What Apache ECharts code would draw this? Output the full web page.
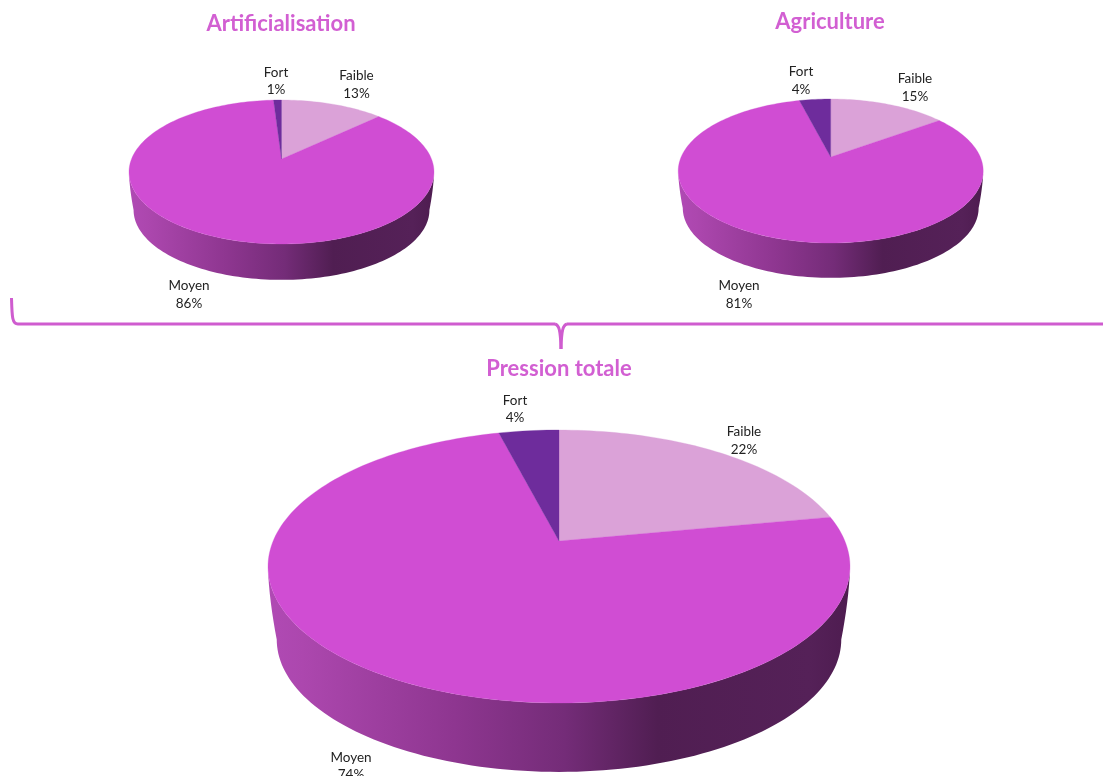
<!DOCTYPE html>
<html>
<head>
<meta charset="utf-8">
<style>html,body{margin:0;padding:0;background:#fff}#c{width:1103px;height:776px}</style>
<script src="https://cdn.jsdelivr.net/npm/echarts@6/dist/echarts.min.js"></script>
</head>
<body>
<div id="c"></div>
<script>
// Data
var categories = ['Faible', 'Moyen', 'Fort'];
var artificialisationValues = [13, 86, 1];
var agricultureValues = [15, 81, 4];
var pressionValues = [22, 74, 4];
var pieTitles = ['Artificialisation', 'Agriculture', 'Pression totale'];

// Layout
var TOP = '#D04DD3', TITLE = '#D25FD2';
var sliceColors = {Faible: '#DBA2D8', Moyen: TOP, Fort: '#6E2C9C'};
var pies = [
  {values: artificialisationValues, cx: 281.5, apexY: 159, rx: 152.5, up: 59, down: 85, depth: 38,
   labels: {Faible: [356.5, 84.5], Moyen: [189, 294.5], Fort: [276, 81]}, titlePos: [281, 24]},
  {values: agricultureValues, cx: 830.7, apexY: 157, rx: 152.5, up: 58, down: 86, depth: 37,
   labels: {Faible: [915, 87.5], Moyen: [739, 294.5], Fort: [801, 80.5]}, titlePos: [830, 22]},
  {values: pressionValues, cx: 559, apexY: 541, rx: 291, up: 111, down: 162, depth: 73,
   labels: {Faible: [744, 440.5], Moyen: [351, 766], Fort: [515, 409]}, titlePos: [559, 369]}
];
var WALL_SCALE = 0.97;

function project(p, deg) {
  var k = (p.down - p.up) / (p.down + p.up);
  var a = deg * Math.PI / 180;
  var x = Math.sin(a), y = Math.cos(a), w = 1 + k * y;
  var sx = p.rx * Math.sqrt(1 - k * k), sy = p.up * (1 + k);
  return [p.cx + sx * x / w, p.apexY - sy * y / w];
}
function wallPoint(p, deg) {
  var pt = project(p, deg);
  var centreY = p.apexY + (p.down - p.up) / 2;
  return [p.cx + (pt[0] - p.cx) * WALL_SCALE, centreY + (pt[1] - centreY) * WALL_SCALE + p.depth];
}
function arc(fn, p, from, to) {
  var pts = [], n = Math.max(2, Math.ceil(Math.abs(to - from) / 1.5));
  for (var i = 0; i <= n; i++) pts.push(fn(p, from + (to - from) * i / n));
  return pts;
}
// Side edge of the wall, bowing outwards slightly like the drum's silhouette.
function sideEdge(a, b) {
  var pts = [];
  for (var i = 1; i < 8; i++) {
    var t = i / 8;
    pts.push([a[0] + (b[0] - a[0]) * Math.pow(t, 1.6), a[1] + (b[1] - a[1]) * t]);
  }
  return pts;
}
var wallGradient = new echarts.graphic.LinearGradient(0, 0, 1, 0, [
  {offset: 0, color: '#B04AB4'}, {offset: 0.06, color: '#AC47AE'},
  {offset: 0.32, color: '#8E3690'}, {offset: 0.51, color: '#742C78'},
  {offset: 0.67, color: '#501E52'}, {offset: 0.93, color: '#552158'}, {offset: 1, color: '#4E1C50'}
]);

function makeSeries(p) {
  var total = p.values.reduce(function (a, b) { return a + b; }, 0);
  var running = 0;
  var rows = p.values.map(function (v) { var r = [v, running]; running += v; return r; });
  var k = (p.down - p.up) / (p.down + p.up);
  var frontFrom = Math.acos(-k) * 180 / Math.PI, frontTo = 360 - frontFrom;
  return {
    type: 'custom', coordinateSystem: 'none', silent: true,
    data: rows,
    renderItem: function (params, api) {
      var name = categories[params.dataIndex];
      var from = api.value(1) / total * 360, to = (api.value(1) + api.value(0)) / total * 360;
      var children = [];
      var wf = Math.max(from, frontFrom), wt = Math.min(to, frontTo);
      if (wt > wf) {
        var topArc = arc(project, p, wf, wt), lowArc = arc(wallPoint, p, wt, wf);
        var pts = topArc
          .concat(sideEdge(topArc[topArc.length - 1], lowArc[0]))
          .concat(lowArc)
          .concat(sideEdge(topArc[0], lowArc[lowArc.length - 1]).reverse());
        children.push({type: 'polygon', z2: 1, shape: {points: pts},
          style: {fill: wallGradient, stroke: null}});
      }
      children.push({type: 'polygon', z2: 2,
        shape: {points: [[p.cx, p.apexY]].concat(arc(project, p, from, to))},
        style: {fill: sliceColors[name], stroke: sliceColors[name], lineWidth: 0.3}});
      var lp = p.labels[name];
      children.push({type: 'text', z2: 3, x: lp[0], y: lp[1],
        style: {text: name + '\n' + api.value(0) + '%', fill: '#222', font: '13.5px Lato',
          align: 'center', verticalAlign: 'middle', lineHeight: 17.5}});
      return {type: 'group', children: children};
    }
  };
}

var braceStyle = {fill: null, stroke: '#CF5CCF', lineWidth: 3};
function curve(x1, y1, cx1, cy1, cx2, cy2, x2, y2) {
  return {type: 'bezierCurve', silent: true, shape: {x1: x1, y1: y1, cpx1: cx1, cpy1: cy1, cpx2: cx2, cpy2: cy2, x2: x2, y2: y2}, style: braceStyle};
}
function straight(x1, y1, x2, y2) {
  return {type: 'line', silent: true, shape: {x1: x1, y1: y1, x2: x2, y2: y2}, style: braceStyle};
}

var chart = echarts.init(document.getElementById('c'), null, {renderer: 'canvas'});
chart.setOption({
  animation: false,
  backgroundColor: '#fff',
  title: pies.map(function (p, i) {
    return {text: pieTitles[i], left: p.titlePos[0], top: p.titlePos[1], padding: 0, textAlign: 'center', textVerticalAlign: 'middle',
      textStyle: {color: TITLE, fontFamily: 'Lato', fontWeight: 'bold', fontSize: 22}};
  }),
  series: pies.map(makeSeries),
  graphic: [
    curve(11.5, 298, 12, 316, 12, 324, 18, 324),
    straight(18, 324, 555, 324),
    curve(555, 324, 559, 325, 560.5, 330, 561, 349),
    curve(561, 349, 561.5, 330, 563, 325, 567, 324),
    straight(567, 324, 1103, 324)
  ]
});
</script>
</body>
</html>
